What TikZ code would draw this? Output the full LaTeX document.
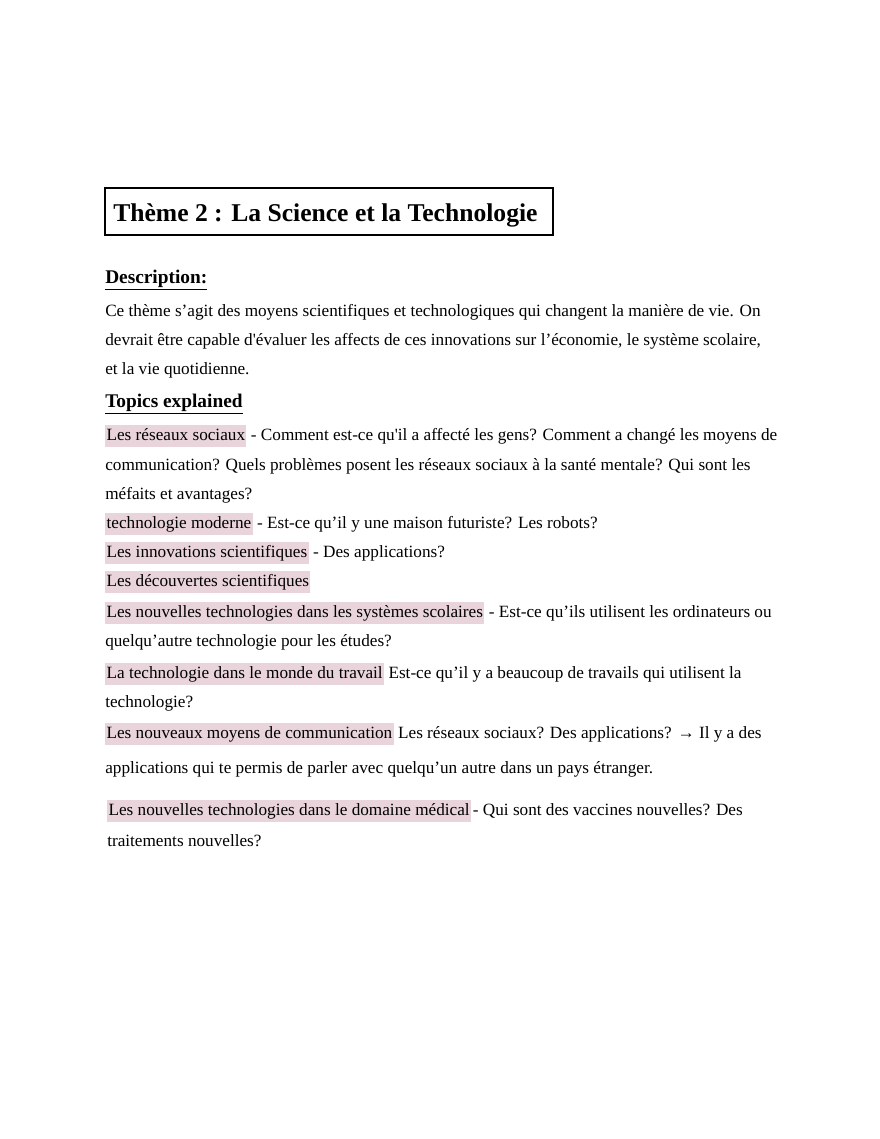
\documentclass[tikz,border=0pt]{standalone}
\usepackage{fontspec}
\setmainfont{Liberation Serif}
\usetikzlibrary{positioning}
\definecolor{hlpink}{RGB}{233,212,220}
\tikzset{
Txt/.style={
	anchor=base west,
	inner sep=0pt,
	font=\fontsize{12.9}{15}\selectfont
},
Marked/.style={
	Txt,
	fill=hlpink,
	inner xsep=1pt,
	text height=9.5pt,
	text depth=3.5pt,
	inner ysep=1.8pt
},
Rest/.style={
	Txt,
	anchor=base west
},
Heading/.style={
	Txt,
	font=\fontsize{14.5}{17}\selectfont\bfseries
}
}
\newcommand{\sq}{\textquotesingle}

\begin{document}
\begin{tikzpicture}[x=0.75pt, y=-0.75pt]
	\useasboundingbox (0,0) rectangle (880,1139);
	% title
	\draw[line width=0.9pt] (105,188) rectangle (553,235);
	\node[Txt, font=\fontsize{19.2}{22}\selectfont\bfseries] (title) at (113,221) {Thème 2 : La Science et la Technologie};

	\node[Heading] (desc) at (105,283) {\underline{Description:}};
	\node[Txt] (d1) at (105,316) {Ce thème s’agit des moyens scientifiques et technologiques qui changent la manière de vie. On};
	\node[Txt] (d2) at (105,345) {devrait être capable d\sq évaluer les affects de ces innovations sur l’économie, le système scolaire,};
	\node[Txt] (d3) at (105,374) {et la vie quotidienne.};

	\node[Heading] (topics) at (105,407) {\underline{Topics explained}};

	\node[Marked] (t1) at (105,440) {Les réseaux sociaux};
	\node[Rest] (t1r) at ([xshift=3pt]t1.base east) {- Comment est-ce qu\sq il a affecté les gens? Comment a changé les moyens de};
	\node[Txt] (t1b) at (105,470) {communication? Quels problèmes posent les réseaux sociaux à la santé mentale? Qui sont les};
	\node[Txt] (t1c) at (105,499) {méfaits et avantages?};

	\node[Marked] (t2) at (105,528) {technologie moderne};
	\node[Rest] (t2r) at ([xshift=3pt]t2.base east) {- Est-ce qu’il y une maison futuriste? Les robots?};

	\node[Marked] (t3) at (105,557) {Les innovations scientifiques};
	\node[Rest] (t3r) at ([xshift=3pt]t3.base east) {- Des applications?};

	\node[Marked] (t4) at (105,586) {Les découvertes scientifiques};

	\node[Marked] (t5) at (105,617) {Les nouvelles technologies dans les systèmes scolaires};
	\node[Rest] (t5r) at ([xshift=3pt]t5.base east) {- Est-ce qu’ils utilisent les ordinateurs ou};
	\node[Txt] (t5b) at (105,646) {quelqu’autre technologie pour les études?};

	\node[Marked] (t6) at (105,678) {La technologie dans le monde du travail};
	\node[Rest] (t6r) at ([xshift=3pt]t6.base east) {Est-ce qu’il y a beaucoup de travails qui utilisent la};
	\node[Txt] (t6b) at (105,707) {technologie?};

	\node[Marked] (t7) at (105,738) {Les nouveaux moyens de communication};
	\node[Rest] (t7r) at ([xshift=3pt]t7.base east) {Les réseaux sociaux? Des applications? → Il y a des};
	\node[Txt] (t7b) at (105,773) {applications qui te permis de parler avec quelqu’un autre dans un pays étranger.};

	\node[Marked] (t8) at (107,815) {Les nouvelles technologies dans le domaine médical\ };
	\node[Rest] (t8r) at ([xshift=1pt]t8.base east) {- Qui sont des vaccines nouvelles? Des};
	\node[Txt] (t8b) at (107,846) {traitements nouvelles?};
\end{tikzpicture}
\end{document}
